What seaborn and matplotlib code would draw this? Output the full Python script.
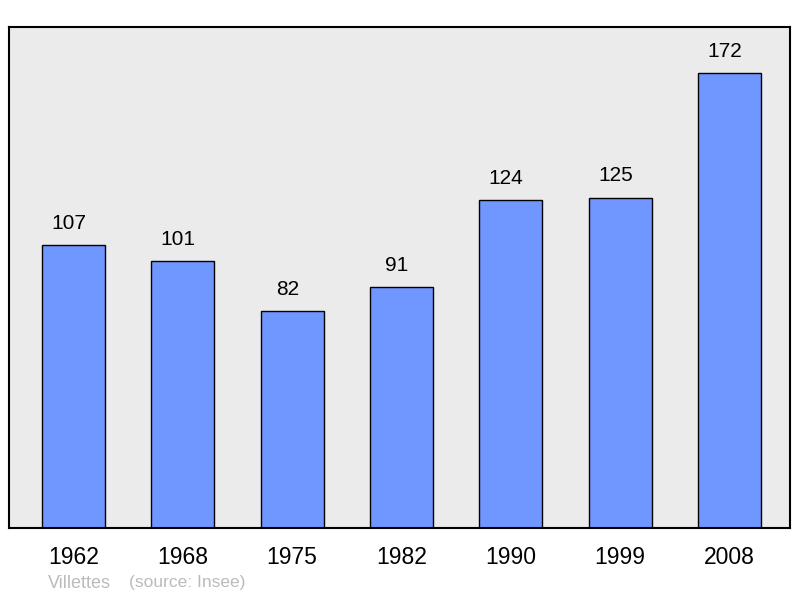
import pandas as pd
import seaborn as sns
import matplotlib.pyplot as plt

# data
years = ["1962", "1968", "1975", "1982", "1990", "1999", "2008"]
population = [107, 101, 82, 91, 124, 125, 172]
commune = "Villettes"
source = "(source: Insee)"

df = pd.DataFrame({"year": years, "pop": population})

sns.set_style("white")
plt.rcParams["font.family"] = ["Liberation Sans", "DejaVu Sans"]

fig = plt.figure(figsize=(8, 5.98), dpi=100)
ax = fig.add_axes([9 / 800, 70 / 598, 781 / 800, 501 / 598])
ax.set_facecolor("#ebebeb")

sns.barplot(data=df, x="year", y="pop", color="#7096ff", saturation=1,
            width=0.576, edgecolor="black", linewidth=1.0, ax=ax)

# value labels above each bar (sit a little left of centre in the original)
for i, v in enumerate(population):
    ax.annotate(str(v), (i, v), xytext=(-3.5, 15.5), textcoords="offset points",
                ha="center", va="center", fontsize=15, color="black")

ax.set_xlim(-0.59, 6.553)
ax.set_ylim(0, 189.5)
ax.set_yticks([])
ax.set_xlabel("")
ax.set_ylabel("")
ax.tick_params(axis="x", length=0, labelsize=16.5, labelcolor="black", pad=13)
for sp in ax.spines.values():
    sp.set_visible(True)
    sp.set_color("black")
    sp.set_linewidth(1.5)

fig.text(48 / 800, 1 - 583 / 598, commune, fontsize=13, color="#bbbbbb", va="center")
fig.text(129 / 800, 1 - 583 / 598, source, fontsize=12.5, color="#bbbbbb", va="center")

fig.savefig("out.png", dpi=100)
